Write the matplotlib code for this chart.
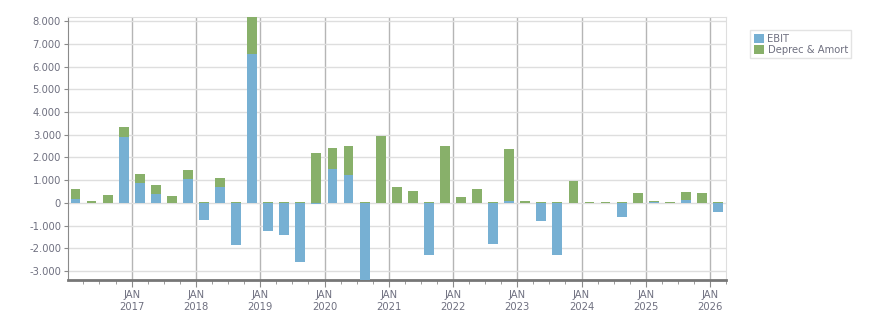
import matplotlib
matplotlib.use("Agg")
import matplotlib.pyplot as plt
import matplotlib.dates as mdates
import matplotlib.ticker as mticker
import pandas as pd
import numpy as np

quarters = pd.period_range("2016Q1", "2026Q1", freq="Q")
ebit = [180, 10, 10, 2920, 880, 400, 10, 1060, -750, 690, -1860, 6540, -1240, -1410,
        -2590, -30, 1500, 1240, -3500, 10, 10, 10, -2300, 10, 10, 10, -1810, 90, 10,
        -800, -2300, 10, -10, -10, -620, 10, 20, -10, 130, 10, -400]
deprec = [440, 80, 340, 440, 400, 400, 300, 400, 30, 410, 30, 1650, 30, 30, 30, 2210,
          930, 1280, 30, 2950, 700, 520, 30, 2510, 260, 610, 30, 2300, 80, 30, 30, 960,
          20, 20, 20, 430, 70, 20, 360, 430, 20]
series_names = ["EBIT", "Deprec & Amort"]

c_blue = "#77b0d3"
c_green = "#88b06a"
txt = "#6f7080"

starts = quarters.start_time
ends = quarters.end_time
mids = starts + (ends - starts) / 2
x = mdates.date2num(mids.to_pydatetime())
w = 56

fig = plt.figure(figsize=(8.76, 3.13), dpi=100)
ax = fig.add_axes([68/876, 33/313, (726-68)/876, (280-17)/313])

e = np.array(ebit, dtype=float)
d = np.array(deprec, dtype=float)
ax.bar(x, e, width=w, color=c_blue, label=series_names[0], zorder=3)
ax.bar(x, d, width=w, bottom=np.maximum(e, 0), color=c_green, label=series_names[1], zorder=3)

ax.set_xlim(mdates.date2num(pd.Timestamp("2016-01-04")), mdates.date2num(pd.Timestamp("2026-04-01")))
ax.set_ylim(-3400, 8190)

ax.yaxis.set_major_locator(mticker.MultipleLocator(1000))
ax.yaxis.set_major_formatter(mticker.FuncFormatter(lambda v, p: f"{v:,.0f}".replace(",", ".")))
ax.xaxis.set_major_locator(mdates.YearLocator(1, month=1, day=1))
ax.xaxis.set_minor_locator(mdates.MonthLocator(bymonth=[4, 7, 10]))
ax.xaxis.set_major_formatter(mdates.DateFormatter("JAN\n%Y"))

ax.grid(axis="y", color="#dedede", lw=1, zorder=0)
ax.grid(axis="x", which="major", color="#b5b5b5", lw=1, zorder=1)

for s in ["top", "right"]:
    ax.spines[s].set_color("#dedede")
ax.spines["left"].set_color("#8a8a8a")
ax.spines["bottom"].set_color("#777777")
ax.spines["bottom"].set_linewidth(2)

ax.tick_params(axis="y", colors="#8a8a8a", labelcolor=txt, labelsize=7.2, length=3, pad=2)
ax.tick_params(axis="x", which="major", colors="#8a8a8a", labelcolor=txt, labelsize=7.2, length=5, pad=2)
ax.tick_params(axis="x", which="minor", colors="#8a8a8a", length=3)
for lab in ax.get_xticklabels():
    lab.set_linespacing(1.25)

leg = ax.legend(loc="upper left", bbox_to_anchor=(750/876, 1-30/313), bbox_transform=fig.transFigure,
                frameon=True, fancybox=False, fontsize=7.2, handlelength=1.05, handleheight=1.05,
                handletextpad=0.35, borderpad=0.35, labelspacing=0.1, borderaxespad=0)
leg.get_frame().set_edgecolor("#dddddd")
leg.get_frame().set_linewidth(1)
for t in leg.get_texts():
    t.set_color(txt)

fig.savefig("out.png", dpi=100)
